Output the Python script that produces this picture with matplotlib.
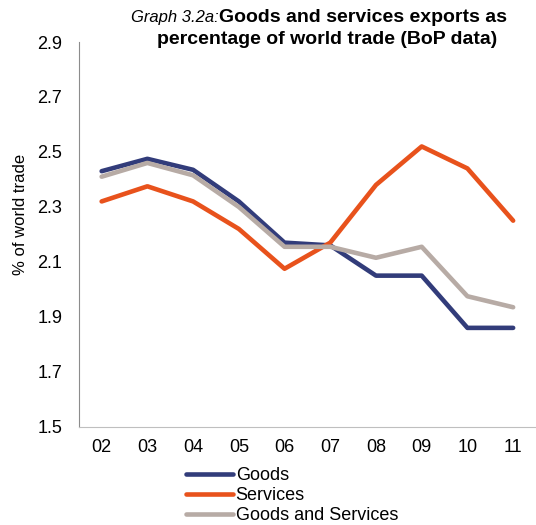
import matplotlib.pyplot as plt

plt.rcParams['font.family'] = ['Liberation Sans', 'DejaVu Sans']

years = ['02', '03', '04', '05', '06', '07', '08', '09', '10', '11']
goods = [2.43, 2.475, 2.435, 2.32, 2.17, 2.16, 2.05, 2.05, 1.86, 1.86]
services = [2.32, 2.375, 2.32, 2.22, 2.075, 2.17, 2.38, 2.52, 2.44, 2.25]
goods_services = [2.41, 2.46, 2.415, 2.30, 2.155, 2.155, 2.115, 2.155, 1.975, 1.935]

fig = plt.figure(figsize=(5.36, 5.25), dpi=100)
ax = fig.add_axes([0.147, 0.187, 0.853, 0.733])

x = range(len(years))
ax.plot(x, goods, color='#323C7A', lw=3.3, label='Goods', solid_capstyle='round')
ax.plot(x, services, color='#E8521C', lw=3.3, label='Services', solid_capstyle='round')
ax.plot(x, goods_services, color='#B7ABA5', lw=3.3, label='Goods and Services', solid_capstyle='round')

ax.set_xlim(-0.5, 9.5)
ax.set_ylim(1.5, 2.9)
ax.set_yticks([1.5, 1.7, 1.9, 2.1, 2.3, 2.5, 2.7, 2.9])
ax.set_yticklabels(['1.5', '1.7', '1.9', '2.1', '2.3', '2.5', '2.7', '2.9'])
ax.set_xticks(list(x))
ax.set_xticklabels(years)
ax.tick_params(axis='both', labelsize=13, length=0)
ax.tick_params(axis='y', pad=12)
ax.tick_params(axis='x', pad=9)
for s in ['top', 'right']:
    ax.spines[s].set_visible(False)
ax.spines['left'].set_color('#8C8C8C')
ax.spines['bottom'].set_color('#BFBFBF')
ax.set_ylabel('% of world trade', fontsize=12)
ax.yaxis.set_label_coords(-0.112, 0.553)

leg = fig.legend(loc='upper left', bbox_to_anchor=(0.347, 0.110), frameon=False,
                 fontsize=13, handlelength=2.6, handletextpad=0.15,
                 labelspacing=0.16, borderpad=0, borderaxespad=0)

fig.text(0.409, 0.966, 'Graph 3.2a:', ha='right', va='center', fontsize=12, style='italic')
fig.text(0.409, 0.966, 'Goods and services exports as', ha='left', va='center',
         fontsize=14, weight='bold')
fig.text(0.611, 0.924, 'percentage of world trade (BoP data)', ha='center', va='center',
         fontsize=14, weight='bold')

fig.savefig('out.png', dpi=100)
